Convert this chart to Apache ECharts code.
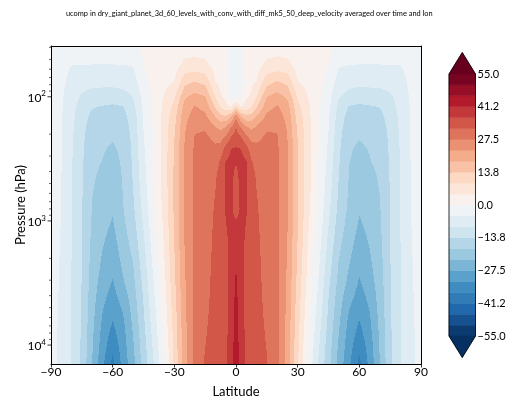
<!DOCTYPE html>
<html><head><meta charset="utf-8">
<script src="https://cdn.jsdelivr.net/npm/echarts@6/dist/echarts.min.js"></script>
<style>html,body{margin:0;padding:0;background:#fff}#c{width:516px;height:398px}</style>
</head><body><div id="c"></div>
<script>
// ---------------- data ----------------
const lats = [-90,-85,-80,-75,-70,-65,-60,-55,-50,-45,-40,-35,-30,-25,-20,-15,-10,-7.5,-5,-2.5,0,2.5,5,7.5,10,15,20,25,30,35,40,45,50,55,60,65,70,75,80,85,90];
const pressures = [39,55,75,100,120,145,175,210,260,330,420,560,800,1100,1600,2200,3200,4500,6300,9000,14200];
// zonal wind (m/s), one array per pressure level, values along lats
const u_p39 = [-1.5,-2,-2,-2,-2,-1.8,-1.5,-1,0.2,0.5,1.5,1.5,1.8,2.5,2.5,2.5,2,1.5,1,-1.5,-2,-0.8,1.2,1.6,2,2.5,2.6,2.5,1.8,1.4,1.5,0.6,0.2,-1,-1.5,-1.8,-2,-2,-2,-2,-1.5];
const u_p55 = [-2,-3,-4.5,-4.5,-4.6,-4.6,-4.6,-4.5,-4.3,0,1.8,1.8,2.8,5.5,6,5.5,3,2.5,1.5,-1.8,-2.5,-1,1.8,2.6,3,5.4,6.2,5.6,2.9,1.7,1.7,0,-4.1,-4.5,-4.6,-4.6,-4.6,-4.5,-4.5,-3,-2];
const u_p75 = [-2.5,-3.5,-6,-7.2,-7.6,-7.8,-7.8,-7.5,-6.5,-1.5,1.5,3,4.5,12,13.7,12,4.5,3.5,2,-2,-2.5,-1.2,2.3,3.6,4.6,11.8,13.8,12.2,4.6,2.8,1.3,-1.4,-6.3,-7.5,-7.9,-7.8,-7.6,-7.1,-6.1,-3.6,-2.5];
const u_p100 = [-2.8,-3.9,-7,-9.8,-11,-11.2,-11.3,-10.8,-9,-3,1.2,4.8,8.5,17.5,20,18.5,9,5,3.5,-1.2,-2,-0.8,3.8,5.2,9.2,18.2,20.2,17.6,8.6,4.6,1,-2.8,-8.8,-10.9,-11.4,-11.2,-11.1,-9.9,-7.1,-4,-2.8];
const u_p120 = [-3,-4.1,-7.6,-11,-13.4,-14,-14.5,-13.9,-10.5,-3.7,1,5.6,10.5,20,23.2,21.5,13,8.5,6,4,10,4.5,6.5,8.8,13.2,21.3,23.4,20.2,10.6,5.4,0.8,-3.5,-10.3,-14,-14.6,-14.1,-13.6,-11.1,-7.7,-4.2,-3];
const u_p145 = [-3,-4.2,-8,-11.8,-14.8,-15.5,-16,-15.3,-11.5,-4.2,0.8,6.1,12,21.5,25,24,18.5,15.5,14.5,18,26,18.5,15,15.8,18.8,24,25.2,21.6,12,5.9,0.6,-4,-11.3,-15.5,-16.1,-15.6,-14.9,-11.9,-8.1,-4.3,-3];
const u_p175 = [-3,-4.3,-8.3,-12.3,-15.8,-16.6,-17.2,-16.3,-12,-4.5,0.6,6.4,13,22.3,26.6,26.8,23,21.5,23,27,32,27,23.5,21.8,23.3,26.7,26.8,22.4,13,6.2,0.4,-4.4,-11.9,-16.5,-17.3,-16.7,-15.9,-12.4,-8.4,-4.3,-3];
const u_p210 = [-3,-4.3,-8.5,-12.6,-16.5,-17.4,-18,-17,-12.4,-4.8,0.5,6.6,13.6,22.8,27.8,28.5,26,25.5,28,32,34.5,32,28.5,25.8,26.2,28.3,27.9,22.9,13.6,6.4,0.3,-4.8,-12.4,-17.3,-18.1,-17.5,-16.6,-12.7,-8.6,-4.4,-3];
const u_p260 = [-3,-4.4,-8.7,-12.9,-17,-18,-18.8,-17.5,-12.7,-5.2,0.4,6.7,14,23.2,28.2,29.5,28.5,29.5,33.5,36.5,37,36.5,33.8,29.6,28.6,29.4,28.2,23.3,14,6.5,0.2,-5.3,-12.9,-17.9,-18.9,-18.1,-17.1,-13,-8.8,-4.4,-3];
const u_p330 = [-3,-4.4,-8.8,-13.1,-17.4,-18.4,-19.5,-17.8,-13,-5.6,0.3,6.7,14.3,23.5,28.4,30,30.5,32.5,36.8,38,37.2,38,36.9,32.4,30.5,29.9,28.3,23.5,14.2,6.5,0.1,-5.8,-13.3,-18.2,-19.6,-18.5,-17.5,-13.2,-8.9,-4.5,-3];
const u_p420 = [-3,-4.5,-8.9,-13.3,-17.8,-19,-20.3,-18,-13.3,-6.1,0.2,6.6,14.5,23.7,28.3,30.3,31.6,33.5,37.3,38,35.5,38.2,37.4,33.5,31.6,30.2,28.2,23.6,14.3,6.4,0,-6.4,-13.7,-18.5,-20.4,-19.1,-17.9,-13.4,-9,-4.5,-3];
const u_p560 = [-3.1,-4.5,-9,-13.4,-18.1,-19.8,-21.3,-18.2,-13.7,-6.8,0.1,6.4,14.6,23.8,28.3,30.5,32.1,33.8,37.3,37.6,35,37.7,37.3,33.8,32.1,30.4,28.2,23.6,14.4,6.2,-0.2,-7.1,-14.2,-18.8,-21.4,-19.9,-18.2,-13.5,-9.05,-4.6,-3.1];
const u_p800 = [-3.1,-4.6,-9.05,-13.5,-18.5,-20.8,-22.4,-18.6,-14.5,-7.8,-0.5,6,14.5,23.6,28.3,30.6,32.4,34,37,37.4,35.3,37.3,37,34,32.4,30.5,28.2,23.4,14.2,5.8,-0.7,-8.1,-15,-19.3,-22.5,-20.9,-18.6,-13.6,-9.1,-4.6,-3.1];
const u_p1100 = [-3.2,-4.7,-9.1,-13.6,-18.9,-21.7,-23.5,-19.5,-15.5,-8.9,-1.3,5.4,14.2,23.3,28.4,30.7,32.6,34.2,36.5,37.6,37.5,37.6,36.5,34.2,32.6,30.6,28.3,23.1,13.9,5.2,-1.5,-9.2,-16,-20.2,-23.6,-21.8,-19,-13.7,-9.15,-4.7,-3.2];
const u_p1600 = [-3.2,-4.8,-9.15,-13.7,-19.4,-22.7,-24.9,-20.8,-17,-10.2,-2.4,4.7,13.8,23,28.5,30.8,32.8,34.4,35.6,38,39.5,38,35.8,34.4,32.8,30.7,28.4,22.8,13.5,4.5,-2.6,-10.5,-17.4,-21.5,-25,-22.8,-19.5,-13.8,-9.2,-4.8,-3.2];
const u_p2200 = [-3.3,-4.9,-9.2,-13.8,-19.9,-23.6,-26.2,-22,-18.3,-11.3,-3.3,4,13.3,22.7,28.6,30.9,33,34.6,35.3,38.3,41,38.3,35.4,34.6,33,30.8,28.5,22.5,13,3.8,-3.5,-11.6,-18.6,-22.7,-26.3,-23.7,-20,-13.9,-9.25,-4.9,-3.3];
const u_p3200 = [-3.3,-5,-9.25,-13.9,-20.5,-25,-28,-23.6,-19.5,-12.6,-4.5,3.2,12.7,22.3,28.7,31,33.2,34.8,35.2,38.5,42,38.5,35.3,34.8,33.2,30.9,28.6,22.1,12.4,3,-4.7,-12.9,-19.8,-24.2,-28.1,-25.1,-20.6,-14,-9.3,-5,-3.3];
const u_p4500 = [-3.4,-5.1,-9.3,-14,-21,-26.7,-29.8,-26.2,-20.7,-13.6,-5.5,2.3,12,22,28.8,31.2,33.4,35,35.2,38.6,42.5,38.6,35.3,35,33.4,31.1,28.7,21.8,11.7,2.1,-5.7,-13.9,-21,-26.6,-29.9,-26.8,-21.1,-14.1,-9.35,-5.1,-3.4];
const u_p6300 = [-3.4,-5.2,-9.35,-14.2,-21.6,-28,-32,-28.2,-21.8,-14.5,-6.6,1.5,11.3,21.6,28.9,31.5,33.6,35.2,35.3,38.8,43,38.8,35.4,35.2,33.6,31.4,28.8,21.5,11,1.2,-6.8,-14.8,-22.1,-28.5,-32.1,-28.1,-21.7,-14.3,-9.4,-5.2,-3.4];
const u_p9000 = [-3.5,-5.3,-9.4,-14.4,-22.2,-29.3,-34.5,-29.4,-23,-15.5,-7.8,0.5,10.7,21.3,29,31.9,33.8,35.4,35.5,39,43.3,39,35.6,35.4,33.8,31.8,28.9,21.2,10.4,0.3,-8,-15.8,-23.3,-29.8,-34.6,-29.4,-22.3,-14.5,-9.45,-5.3,-3.5];
const u_p14200 = [-3.5,-5.4,-9.5,-14.7,-23,-31,-38,-30.5,-24.3,-16.5,-9.2,-0.7,10,21,29.2,32.5,34,35.6,35.8,39.3,43.8,39.2,35.9,35.6,34,32.3,29,20.8,9.7,-0.9,-9.4,-16.8,-24.6,-31.2,-37.8,-30.8,-22.9,-14.7,-9.5,-5.4,-3.5];
const field = [u_p39,u_p55,u_p75,u_p100,u_p120,u_p145,u_p175,u_p210,u_p260,u_p330,u_p420,u_p560,u_p800,u_p1100,u_p1600,u_p2200,u_p3200,u_p4500,u_p6300,u_p9000,u_p14200];

const levelMin = -55, levelMax = 55, nBands = 24;
const xTicks = [-90,-60,-30,0,30,60,90];
const yMajorTicks = [100,1000,10000];
const yMinorTicks = [40,50,60,70,80,90,200,300,400,500,600,700,800,900,2000,3000,4000,5000,6000,7000,8000,9000];
const cbarTicks = [-55,-41.25,-27.5,-13.75,0,13.75,27.5,41.25,55];
const cbarTickLabels = ['\u221255.0','\u221241.2','\u221227.5','\u221213.8','0.0','13.8','27.5','41.2','55.0'];
const titleText = 'ucomp in dry_giant_planet_3d_60_levels_with_conv_with_diff_mk5_50_deep_velocity averaged over time and lon';

field.forEach((r, i) => { if (r.length !== lats.length) throw new Error('row ' + i + ' has ' + r.length); });

// ---------------- colormap (RdBu_r) ----------------
const rdbuR = [[5,48,97],[33,102,172],[67,147,195],[146,197,222],[209,229,240],[247,247,247],[253,219,199],[244,165,130],[214,96,77],[178,24,43],[103,0,31]];
function cmap(t) {
  t = Math.max(0, Math.min(1, t));
  const s = t * 10, i = Math.min(9, Math.floor(s)), f = s - i;
  const a = rdbuR[i], b = rdbuR[i + 1];
  return 'rgb(' + Math.round(a[0] + (b[0] - a[0]) * f) + ',' + Math.round(a[1] + (b[1] - a[1]) * f) + ',' + Math.round(a[2] + (b[2] - a[2]) * f) + ')';
}
const step = (levelMax - levelMin) / nBands;
const levels = []; for (let k = 0; k <= nBands; k++) levels.push(levelMin + k * step);
const bandColors = []; for (let k = 0; k < nBands; k++) bandColors.push(cmap((k + 0.5) / nBands));
const underColor = cmap(0), overColor = cmap(1);
function colorFor(v) {
  if (v < levelMin) return underColor;
  if (v > levelMax) return overColor;
  let k = Math.floor((v - levelMin) / step);
  if (k >= nBands) k = nBands - 1;
  return bandColors[k];
}

// cells
const cells = [];
for (let j = 0; j < pressures.length - 1; j++) {
  for (let i = 0; i < lats.length - 1; i++) {
    cells.push([lats[i], lats[i + 1], pressures[j], pressures[j + 1],
      field[j][i], field[j][i + 1], field[j + 1][i], field[j + 1][i + 1]]);
  }
}

const FONT = 'Lato';
const chart = echarts.init(document.getElementById('c'), null, {renderer: 'canvas'});

function renderCell(params, api) {
  const la = api.value(0), lb = api.value(1), pa = api.value(2), pb = api.value(3);
  const v00 = api.value(4), v10 = api.value(5), v01 = api.value(6), v11 = api.value(7);
  const c0 = api.coord([la, pa]), c1 = api.coord([lb, pb]);
  const x0 = c0[0], x1 = c1[0], y0 = c0[1], y1 = c1[1];
  const X0 = Math.round(x0), X1 = Math.round(x1), Y0 = Math.round(y0), Y1 = Math.round(y1);
  const children = [];
  for (let py = Y0; py < Y1; py++) {
    let ty = (py + 0.5 - y0) / (y1 - y0); ty = Math.max(0, Math.min(1, ty));
    const vl = v00 + (v01 - v00) * ty, vr = v10 + (v11 - v10) * ty;
    let runStart = X0, runColor = null;
    for (let px = X0; px <= X1; px++) {
      let col = null;
      if (px < X1) {
        let tx = (px + 0.5 - x0) / (x1 - x0); tx = Math.max(0, Math.min(1, tx));
        col = colorFor(vl + (vr - vl) * tx);
      }
      if (col !== runColor) {
        if (runColor !== null) {
          children.push({type: 'rect', shape: {x: runStart, y: py, width: px - runStart, height: 1}, style: {fill: runColor}});
        }
        runStart = px; runColor = col;
      }
    }
  }
  return {type: 'group', children: children, silent: true};
}

const ext = (levelMax - levelMin) * 0.082;

const option = {
  animation: false,
  backgroundColor: '#fff',
  title: {text: titleText, left: 61, top: 5, textStyle: {fontSize: 7.4, fontWeight: 'normal', color: '#000', fontFamily: FONT}},
  grid: [
    {left: 51, top: 46, width: 370, height: 318, show: false, containLabel: false, outerBoundsMode: 'none'},
    {left: 449, top: 74, width: 26.5, height: 262, show: false, containLabel: false, outerBoundsMode: 'none'}
  ],
  xAxis: [
    {gridIndex: 0, type: 'value', min: -90, max: 90, interval: 30, position: 'bottom', z: 5,
     axisLine: {show: true, onZero: false, lineStyle: {color: '#000', width: 1}},
     axisTick: {show: true, length: 3.5, lineStyle: {color: '#000', width: 0.8}},
     axisLabel: {fontSize: 12, color: '#000', fontFamily: FONT, margin: 2, formatter: v => String(v).replace('-', '\u2212')},
     splitLine: {show: false},
     name: 'Latitude', nameLocation: 'middle', nameGap: 21, nameMoveOverlap: false, nameTextStyle: {fontSize: 13, color: '#000', fontFamily: FONT}},
    {gridIndex: 0, type: 'value', min: -90, max: 90, position: 'top', z: 5,
     axisLine: {show: true, onZero: false, lineStyle: {color: '#000', width: 1}},
     axisTick: {show: false}, axisLabel: {show: false}, splitLine: {show: false}},
    {gridIndex: 1, type: 'value', min: 0, max: 1, show: false}
  ],
  yAxis: [
    {gridIndex: 0, type: 'log', logBase: 10, min: 39, max: 14200, inverse: true, position: 'left', z: 5,
     axisLine: {show: true, onZero: false, lineStyle: {color: '#000', width: 1}},
     axisTick: {show: false}, splitLine: {show: false}, minorTick: {show: false},
     axisLabel: {margin: 5, color: '#000', fontFamily: FONT,
       formatter: function (v) {
         const lg = Math.log10(v), e = Math.round(lg);
         if (Math.abs(lg - e) < 1e-6 && yMajorTicks.indexOf(Math.pow(10, e)) >= 0) return '{b|10}{s|' + e + '}';
         return '';
       },
       rich: {b: {fontSize: 12, lineHeight: 14, padding: [3, 0, 0, 0], fontFamily: FONT, color: '#000'},
              s: {fontSize: 8, lineHeight: 8, verticalAlign: 'top', padding: [0, 0, 0, 0], fontFamily: FONT, color: '#000'}}},
     name: 'Pressure (hPa)', nameLocation: 'middle', nameGap: 24, nameMoveOverlap: false, nameTextStyle: {fontSize: 13, color: '#000', fontFamily: FONT}},
    {gridIndex: 0, type: 'log', logBase: 10, min: 39, max: 14200, inverse: true, position: 'right', z: 5,
     axisLine: {show: true, onZero: false, lineStyle: {color: '#000', width: 1}},
     axisTick: {show: false}, axisLabel: {show: false}, splitLine: {show: false}},
    {gridIndex: 1, type: 'value', min: levelMin, max: levelMax, interval: 13.75, position: 'right',
     axisLine: {show: false}, splitLine: {show: false},
     axisTick: {show: true, length: 3, lineStyle: {color: '#000', width: 0.8}},
     axisLabel: {fontSize: 11, color: '#000', fontFamily: FONT, margin: 2,
       formatter: v => { const i = cbarTicks.findIndex(t => Math.abs(t - v) < 1e-6); return i >= 0 ? cbarTickLabels[i] : ''; }}}
  ],
  series: [
    {type: 'custom', name: 'ucomp', xAxisIndex: 0, yAxisIndex: 0, data: cells, renderItem: renderCell,
     encode: {x: [0, 1], y: [2, 3]}, silent: true, z: 1},
    {type: 'custom', name: 'yticks', xAxisIndex: 0, yAxisIndex: 0, silent: true, z: 6,
     data: yMajorTicks.map(v => [xTicks[0], v, 1]).concat(yMinorTicks.map(v => [xTicks[0], v, 0])),
     encode: {x: 0, y: 1},
     renderItem: function (params, api) {
       const c = api.coord([api.value(0), api.value(1)]);
       const major = api.value(2) === 1;
       const len = major ? 3.5 : 2;
       return {type: 'line', shape: {x1: c[0] - len, y1: c[1], x2: c[0], y2: c[1]},
               style: {stroke: '#000', lineWidth: major ? 0.8 : 0.6}};
     }},
    {type: 'custom', name: 'cbar', xAxisIndex: 2, yAxisIndex: 2, silent: true,
     data: bandColors.map((c, k) => [levels[k], levels[k + 1]]),
     encode: {y: [0, 1]},
     renderItem: function (params, api) {
       const a = api.coord([0, api.value(0)]), b = api.coord([1, api.value(1)]);
       const col = bandColors[params.dataIndex];
       return {type: 'rect', shape: {x: a[0], y: b[1], width: b[0] - a[0], height: a[1] - b[1]},
               style: {fill: col, stroke: col, lineWidth: 0.5}};
     }},
    {type: 'custom', name: 'cbarExt', xAxisIndex: 2, yAxisIndex: 2, silent: true,
     data: [[levelMin, levelMin - ext], [levelMax, levelMax + ext]],
     encode: {y: [0, 1]},
     renderItem: function (params, api) {
       const v0 = api.value(0), v1 = api.value(1);
       const p1 = api.coord([0, v0]), p2 = api.coord([1, v0]), p3 = api.coord([0.5, v1]);
       const col = params.dataIndex === 0 ? underColor : overColor;
       return {type: 'polygon', shape: {points: [p1, p2, p3]}, style: {fill: col, stroke: col, lineWidth: 0.5}};
     }},
    {type: 'custom', name: 'cbarOutline', xAxisIndex: 2, yAxisIndex: 2, silent: true, z: 4,
     data: [[levelMax, levelMax + ext, levelMin, levelMin - ext]],
     encode: {y: [0, 1, 2, 3]},
     renderItem: function (params, api) {
       const top = api.value(0), tip = api.value(1), bot = api.value(2), btip = api.value(3);
       const pts = [api.coord([0, top]), api.coord([0.5, tip]), api.coord([1, top]),
                    api.coord([1, bot]), api.coord([0.5, btip]), api.coord([0, bot])];
       return {type: 'polygon', shape: {points: pts}, style: {fill: 'none', stroke: '#000', lineWidth: 0.8}};
     }}
  ]
};
chart.setOption(option);
</script>
</body></html>
